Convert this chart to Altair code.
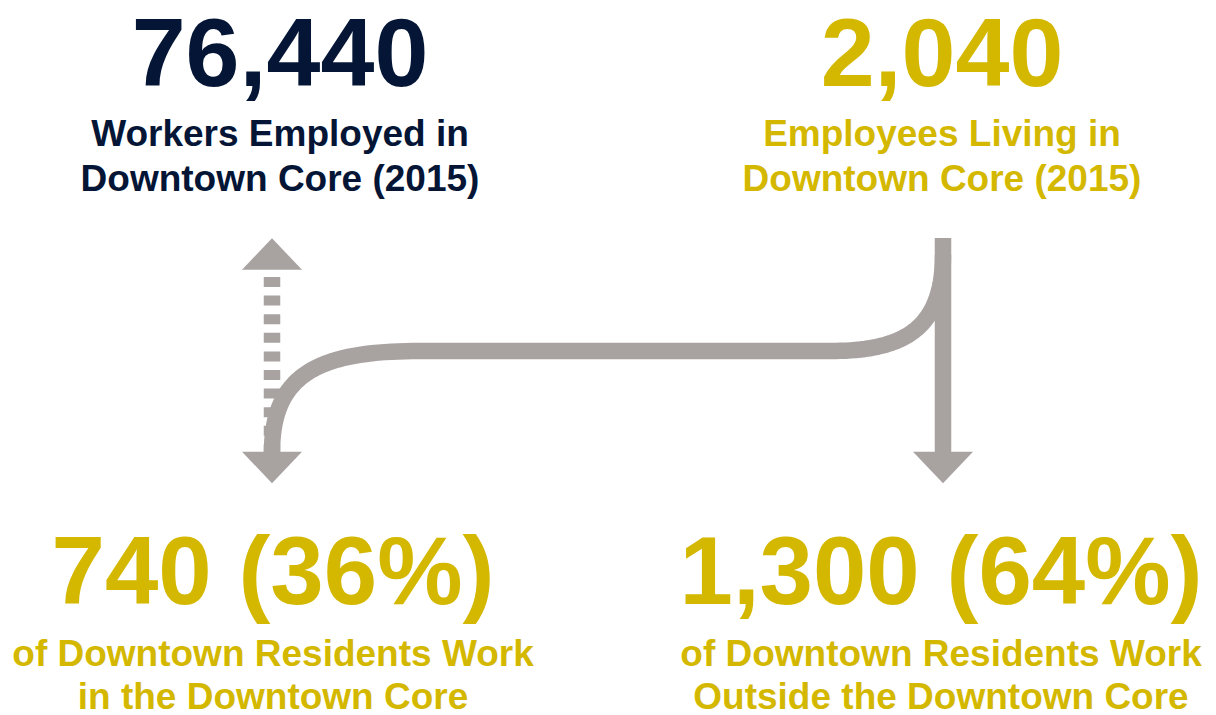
import altair as alt
import numpy as np
import pandas as pd

# ---- values shown in the infographic ----
headline_values = [76440, 2040]
headline_labels = [
    ["Workers Employed in", "Downtown Core (2015)"],
    ["Employees Living in", "Downtown Core (2015)"],
]
split_counts = [740, 1300]
split_pct = [36, 64]
split_labels = [
    ["of Downtown Residents Work", "in the Downtown Core"],
    ["of Downtown Residents Work", "Outside the Downtown Core"],
]

# ---- styles / layout ----
NAVY = "#041536"
GOLD = "#D4B800"
GRAY = "#A8A3A1"
FONT = "Liberation Sans"
BIG = 97
SMALL = 37
LINE_W = 16.5

top_cx = [280, 942]
top_colors = [NAVY, GOLD]
bot_cx = [273, 941]

rows = []
for i in range(2):
    rows.append(dict(t=f"{headline_values[i]:,}", x=top_cx[i], y=86, fs=BIG, col=top_colors[i]))
    rows.append(dict(t=headline_labels[i][0], x=top_cx[i], y=146, fs=SMALL, col=top_colors[i]))
    rows.append(dict(t=headline_labels[i][1], x=top_cx[i], y=191, fs=SMALL, col=top_colors[i]))
    rows.append(dict(t=f"{split_counts[i]:,} ({split_pct[i]}%)", x=bot_cx[i], y=604, fs=96, col=GOLD))
    rows.append(dict(t=split_labels[i][0], x=bot_cx[i], y=666, fs=SMALL, col=GOLD))
    rows.append(dict(t=split_labels[i][1], x=bot_cx[i], y=709, fs=SMALL, col=GOLD))
texts = pd.DataFrame(rows)

xs = alt.Scale(domain=[8, 1208], nice=False, zero=False)
ys = alt.Scale(domain=[8, 715], nice=False, zero=False, reverse=True)


def X(f="x"):
    return alt.X(f"{f}:Q", scale=xs, axis=None)


def Y(f="y"):
    return alt.Y(f"{f}:Q", scale=ys, axis=None)


# connector path (cubic curves + straight segment)
def bez(p0, p1, p2, p3, n=40):
    t = np.linspace(0, 1, n)[:, None]
    p0, p1, p2, p3 = map(np.array, (p0, p1, p2, p3))
    return ((1 - t) ** 3) * p0 + 3 * ((1 - t) ** 2) * t * p1 + 3 * (1 - t) * t ** 2 * p2 + t ** 3 * p3


seg1 = bez((943, 255), (943, 332), (900, 351), (830, 351))
seg2 = bez((420, 351), (322, 351), (272, 372), (272, 452))
pts = np.vstack([seg1, seg2])
path = pd.DataFrame({"x": pts[:, 0], "y": pts[:, 1], "i": np.arange(len(pts))})

curve = alt.Chart(path).mark_line(
    color=GRAY, strokeWidth=LINE_W, strokeCap="butt", strokeJoin="round"
).encode(x=X(), y=Y(), order="i:Q")

solid = alt.Chart(pd.DataFrame({"x": [943], "y": [238], "y2": [452]})).mark_rule(
    color=GRAY, strokeWidth=LINE_W, strokeCap="butt"
).encode(x=X(), y=Y(), y2="y2:Q")

dashed = alt.Chart(pd.DataFrame({"x": [272], "y": [277], "y2": [452]})).mark_rule(
    color=GRAY, strokeWidth=LINE_W, strokeCap="butt", strokeDash=[10, 8.6]
).encode(x=X(), y=Y(), y2="y2:Q")

UP = "M0,-0.525L1,0.525L-1,0.525Z"
DOWN = "M0,0.525L1,-0.525L-1,-0.525Z"
heads_up = alt.Chart(pd.DataFrame({"x": [272], "y": [254]})).mark_point(
    shape=UP, filled=True, color=GRAY, opacity=1, size=3600, strokeWidth=0
).encode(x=X(), y=Y())
heads_down = alt.Chart(pd.DataFrame({"x": [272, 943], "y": [467.5, 467.5]})).mark_point(
    shape=DOWN, filled=True, color=GRAY, opacity=1, size=3600, strokeWidth=0
).encode(x=X(), y=Y())

labels = alt.Chart(texts).mark_text(
    font=FONT, fontWeight="bold", align="center", baseline="alphabetic"
).encode(
    x=X(), y=Y(), text="t:N",
    size=alt.Size("fs:Q", scale=None, legend=None),
    color=alt.Color("col:N", scale=None, legend=None),
)

chart = alt.layer(dashed, curve, solid, heads_up, heads_down, labels).properties(
    width=1200, height=707, padding=0,
    autosize=alt.AutoSizeParams(type="none"),
).configure(background="white").configure_view(strokeWidth=0, stroke=None)

chart.save("out.html", embed_options={"renderer": "svg", "actions": False})
